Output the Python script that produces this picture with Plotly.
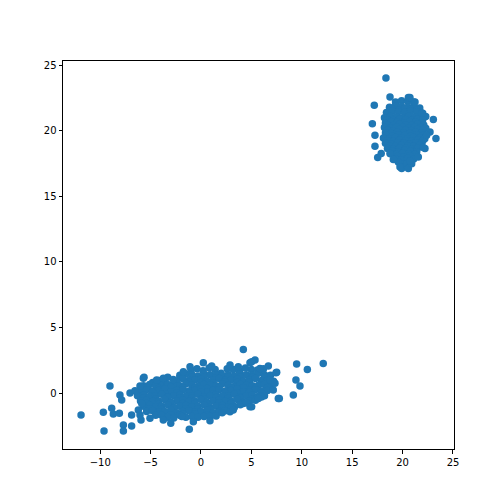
import plotly.graph_objects as go

# ---- Cluster 1 (elongated blob near origin) ----
c1_x = [
    # row ~1.8
    -1.0, -0.4, 0.2, 0.8, 1.4, 2.0, 2.6, 3.2, 3.8, 4.4, 5.0, 5.6, 6.2,
    # row ~1.4
    -2.1, -1.5, -0.9, -0.3, 0.3, 0.9, 1.5, 2.1, 2.7, 3.3, 3.9, 4.5, 5.1, 5.7, 6.3, 6.9,
    # row ~1.2
    -3.3, -2.1, -0.9, 0.3, 1.5, 2.7, 3.9, 5.1, 6.3,
    # row ~1.0
    -4.2, -3.6, -3.0, -2.4, -1.8, -1.2, -0.6, 0.0, 0.6, 1.2, 1.8, 2.4, 3.0, 3.6, 4.2, 4.8, 5.4, 6.0, 6.6, 7.2,
    # row ~0.8
    -4.8, -3.6, -2.4, -1.2, 0.0, 1.2, 2.4, 3.6, 4.8, 6.0, 7.0,
    # row ~0.6
    -5.7, -5.1, -4.5, -3.9, -3.3, -2.7, -2.1, -1.5, -0.9, -0.3, 0.3, 0.9, 1.5, 2.1, 2.7, 3.3, 3.9, 4.5, 5.1, 5.7, 6.3, 6.9,
    # row ~0.4
    -5.4, -4.2, -3.0, -1.8, -0.6, 0.6, 1.8, 3.0, 4.2, 5.4, 6.6,
    # row ~0.2
    -6.0, -5.4, -4.8, -4.2, -3.6, -3.0, -2.4, -1.8, -1.2, -0.6, 0.0, 0.6, 1.2, 1.8, 2.4, 3.0, 3.6, 4.2, 4.8, 5.4, 6.0, 6.6,
    # row ~0.0
    -6.0, -4.8, -3.6, -2.4, -1.2, 0.0, 1.2, 2.4, 3.6, 4.8, 6.0,
    # row ~-0.2
    -6.3, -5.7, -5.1, -4.5, -3.9, -3.3, -2.7, -2.1, -1.5, -0.9, -0.3, 0.3, 0.9, 1.5, 2.1, 2.7, 3.3, 3.9, 4.5, 5.1, 5.7, 6.3,
    # row ~-0.4
    -5.7, -4.5, -3.3, -2.1, -0.9, 0.3, 1.5, 2.7, 3.9, 5.1, 6.0,
    # row ~-0.6
    -6.0, -5.4, -4.8, -4.2, -3.6, -3.0, -2.4, -1.8, -1.2, -0.6, 0.0, 0.6, 1.2, 1.8, 2.4, 3.0, 3.6, 4.2, 4.8, 5.4,
    # row ~-0.8
    -5.4, -4.2, -3.0, -1.8, -0.6, 0.6, 1.8, 3.0, 4.2,
    # row ~-1.0
    -5.7, -5.1, -4.5, -3.9, -3.3, -2.7, -2.1, -1.5, -0.9, -0.3, 0.3, 0.9, 1.5, 2.1, 2.7, 3.3, 3.9, 4.5,
    # row ~-1.2
    -5.1, -3.9, -2.7, -1.5, -0.3, 0.9, 2.1, 3.3,
    # row ~-1.4
    -5.4, -4.8, -4.2, -3.6, -3.0, -2.4, -1.8, -1.2, -0.6, 0.0, 0.6, 1.2, 1.8, 2.4, 3.0,
    # row ~-1.6
    -4.2, -3.0, -1.8, -0.6, 0.6, 1.8,
    # row ~-1.8
    -4.5, -3.9, -3.3, -2.7, -2.1, -1.5, -0.9, -0.3, 0.3, 0.9, 1.5, 2.1,
    # scattered points
    -11.9, -9.03, -9.69, -9.62, -8.04, -7.87, -8.86, -8.7, -8.1, -7.7, -7.7, -6.88, -7.04, -6.05,
    -5.65, -6.88, -5.95, -6.55, -4.4, -6.22, -5.06, -5.88,
    0.23, 1.06, -1.09, -1.75, -2.75, -3.74, 2.88, 3.7,
    -1.16, -3.74, -3.0, -0.76, 0.89, -1.91, 2.88,
    4.2, 9.49, 10.55, 12.13, 9.42, 9.82, 9.16, 7.77, 7.51, 6.68, 5.36, 4.86, 5.69, 4.86, 3.2,
    6.85, 7.17, 5.03, 7.44, 7.34, 7.67, 5.03, 5.85, -5.72, -6.05,
]
c1_y = [
    1.75, 1.85, 1.7, 1.9, 1.8, 1.5, 1.85, 1.8, 1.7, 1.9, 1.8, 1.75, 1.85,
    1.35, 1.45, 1.4, 1.3, 1.45, 1.4, 1.35, 1.3, 1.4, 1.3, 1.45, 1.4, 1.35, 1.5, 1.4, 1.35,
    1.2, 1.15, 1.25, 1.2, 1.15, 1.25, 1.2, 1.2, 1.2,
    0.95, 1.05, 0.6, 0.7, 1.1, 0.95, 1.0, 1.05, 0.9, 1.0, 1.1, 0.95, 1.0, 1.05, 0.9, 1.0, 1.1, 0.95, 1.0, 0.9,
    0.8, 0.75, 0.85, 0.8, 0.8, 0.75, 0.85, 0.8, 0.8, 0.75, 0.8,
    0.55, 0.65, 0.6, 0.5, 0.65, 0.6, 0.55, 0.7, 0.6, 0.5, 0.65, 0.6, 0.55, 0.7, 0.6, 0.5, 0.65, 0.6, 0.55, 0.6, 0.65, 0.5,
    0.4, 0.35, 0.45, 0.4, 0.4, 0.35, 0.45, 0.4, 0.4, 0.35, 0.4,
    0.2, 0.25, 0.15, 0.2, 0.3, 0.1, 0.2, 0.25, 0.15, 0.2, 0.3, 0.1, 0.2, 0.25, 0.15, 0.2, 0.3, 0.1, 0.2, 0.25, 0.15, 0.2,
    0.0, 0.05, -0.05, 0.0, 0.0, 0.05, -0.05, 0.0, 0.0, 0.05, 0.0,
    -0.2, -0.15, -0.25, -0.2, -0.1, -0.3, -0.2, -0.15, -0.25, -0.2, -0.1, -0.3, -0.2, -0.15, -0.25, -0.2, -0.1, -0.3, -0.2, -0.15, -0.25, -0.2,
    -0.4, -0.45, -0.35, -0.4, -0.4, -0.45, -0.35, -0.4, -0.4, -0.45, -0.3,
    -0.6, -0.55, -0.65, -0.6, -0.5, -0.7, -0.6, -0.55, -0.65, -0.6, -0.5, -0.7, -0.6, -0.55, -0.65, -0.6, -0.5, -0.7, -0.6, -0.55,
    -0.8, -0.85, -0.75, -0.8, -0.8, -0.85, -0.75, -0.8, -0.8,
    -1.0, -0.95, -1.05, -1.0, -0.9, -1.1, -1.0, -0.95, -1.05, -1.0, -0.9, -1.1, -1.0, -0.95, -1.05, -1.0, -0.9, -0.75,
    -1.2, -1.25, -1.15, -1.2, -1.2, -1.25, -1.15, -1.1,
    -1.4, -1.35, -1.45, -1.4, -1.3, -1.5, -1.4, -1.35, -1.45, -1.4, -1.3, -1.5, -1.4, -1.35, -1.15,
    -1.6, -1.65, -1.6, -1.6, -1.65, -1.45,
    -1.7, -1.7, -1.85, -1.9, -1.7, -1.85, -1.8, -1.85, -1.8, -1.8, -1.75, -1.5,
    -1.68, 0.53, -1.47, -2.9, -0.15, -0.53, -1.17, -1.6, -1.55, -2.44, -2.9, -2.52, 0.0, 0.53,
    1.2, -1.68, -2.06, 0.18, 1.0, -1.3, -1.93, -0.79,
    2.31, 2.06, 2.0, 1.62, 1.04, 1.12, 2.13, 2.0,
    -2.77, -2.06, -2.31, -2.19, -2.11, -1.8, -1.43,
    3.33, 2.21, 1.8, 2.26, 0.99, 0.53, -0.15, -0.41, 1.58, 2.06, 2.52, 2.31, -0.41, -1.04, -1.3,
    0.99, 0.23, -1.04, 1.55, 0.74, -0.41, 2.39, 1.88, 1.12, -1.68,
]

# ---- Cluster 2 (round blob near (20, 20)) ----
c2_x = [
    19.3, 19.9, 20.5, 21.1,
    18.7, 19.3, 19.9, 20.5, 21.1, 21.7,
    19.0, 19.6, 20.2, 20.8, 21.4,
    18.4, 19.0, 19.6, 20.2, 20.8, 21.4, 22.0,
    18.2, 18.8, 19.4, 20.0, 20.6, 21.2, 21.8, 22.3,
    18.5, 19.1, 19.7, 20.3, 20.9, 21.5, 22.0,
    18.3, 18.9, 19.5, 20.1, 20.7, 21.3, 21.9,
    18.5, 19.1, 19.7, 20.3, 20.9, 21.5, 22.1,
    18.2, 18.8, 19.4, 20.0, 20.6, 21.2, 21.8, 22.3,
    18.5, 19.1, 19.7, 20.3, 20.9, 21.5, 22.0,
    18.3, 18.9, 19.5, 20.1, 20.7, 21.3, 21.9,
    18.4, 19.0, 19.6, 20.2, 20.8, 21.4, 22.0,
    18.1, 18.7, 19.3, 19.9, 20.5, 21.1, 21.7, 22.2,
    18.5, 19.1, 19.7, 20.3, 20.9, 21.5, 22.0,
    18.3, 18.9, 19.5, 20.1, 20.7, 21.3, 21.9,
    18.7, 19.3, 19.9, 20.5, 21.1, 21.7,
    18.5, 19.1, 19.7, 20.3, 20.9, 21.5,
    19.0, 19.6, 20.2, 20.8, 21.4,
    18.8, 19.4, 20.0, 20.6, 21.2,
    19.5, 20.1, 20.7,
    19.3, 19.9, 20.5, 21.1,
    19.8, 20.4,
    # scattered points
    18.35, 17.19, 18.75, 20.57, 23.05, 17.0, 21.23, 23.31, 17.26, 17.53, 19.57, 19.91, 20.57,
    21.56, 22.22, 22.72, 17.26, 18.75, 20.9, 17.88, 19.08, 19.74, 20.73, 22.05, 22.39, 21.9, 20.73,
]
c2_y = [
    22.2, 22.3, 22.25, 22.2,
    21.8, 21.9, 21.85, 21.8, 21.9, 21.75,
    21.65, 21.6, 21.7, 21.65, 21.6,
    21.4, 21.5, 21.45, 21.4, 21.5, 21.45, 21.35,
    21.0, 21.1, 21.05, 21.0, 21.1, 21.05, 21.0, 21.1,
    20.85, 20.8, 20.9, 20.85, 20.8, 20.9, 20.85,
    20.6, 20.7, 20.65, 20.6, 20.7, 20.65, 20.6,
    20.45, 20.4, 20.5, 20.45, 20.4, 20.5, 20.45,
    20.25, 20.2, 20.3, 20.25, 20.2, 20.3, 20.25, 20.2,
    20.05, 20.0, 20.1, 20.05, 20.0, 20.1, 20.05,
    19.85, 19.8, 19.9, 19.85, 19.8, 19.9, 19.85,
    19.65, 19.6, 19.7, 19.65, 19.6, 19.7, 19.65,
    19.45, 19.4, 19.5, 19.45, 19.4, 19.5, 19.45, 19.4,
    19.25, 19.2, 19.3, 19.25, 19.2, 19.3, 19.25,
    19.05, 19.0, 19.1, 19.05, 19.0, 19.1, 19.05,
    18.85, 18.8, 18.9, 18.85, 18.8, 18.9,
    18.65, 18.6, 18.7, 18.65, 18.6, 18.7,
    18.45, 18.4, 18.5, 18.45, 18.4,
    18.25, 18.2, 18.3, 18.25, 18.2,
    18.05, 18.0, 18.1,
    17.85, 17.8, 17.9, 17.85,
    17.5, 17.45,
    24.03, 21.95, 22.58, 22.54, 20.86, 20.55, 22.2, 19.41, 18.83, 17.96, 17.63, 17.13, 17.13,
    18.01, 18.65, 19.92, 19.66, 18.27, 17.5, 18.27, 17.81, 17.25, 17.7, 18.73, 19.66, 21.36, 22.54,
]

x_vals = c1_x + c2_x
y_vals = c1_y + c2_y

fig = go.Figure(go.Scatter(
    x=x_vals, y=y_vals, mode="markers",
    marker=dict(color="#1f77b4", size=7.5, line=dict(width=0)),
    showlegend=False, hoverinfo="skip",
))

axis_common = dict(
    showline=True, linecolor="black", linewidth=1, mirror=True,
    ticks="outside", ticklen=3.5, tickwidth=1, tickcolor="black",
    showgrid=False, zeroline=False,
    tickfont=dict(family="DejaVu Sans", size=10, color="black"),
)

# the page body adds an 8px offset, so margins are set to compensate
fig.update_layout(
    width=504, height=504,
    margin=dict(l=55, r=58, t=53, b=63),
    paper_bgcolor="white", plot_bgcolor="white",
    xaxis=dict(range=[-13.69, 25.1], tickvals=[-10, -5, 0, 5, 10, 15, 20, 25], **axis_common),
    yaxis=dict(range=[-4.27, 25.33], tickvals=[0, 5, 10, 15, 20, 25], **axis_common),
)

fig.write_html("out.html")
